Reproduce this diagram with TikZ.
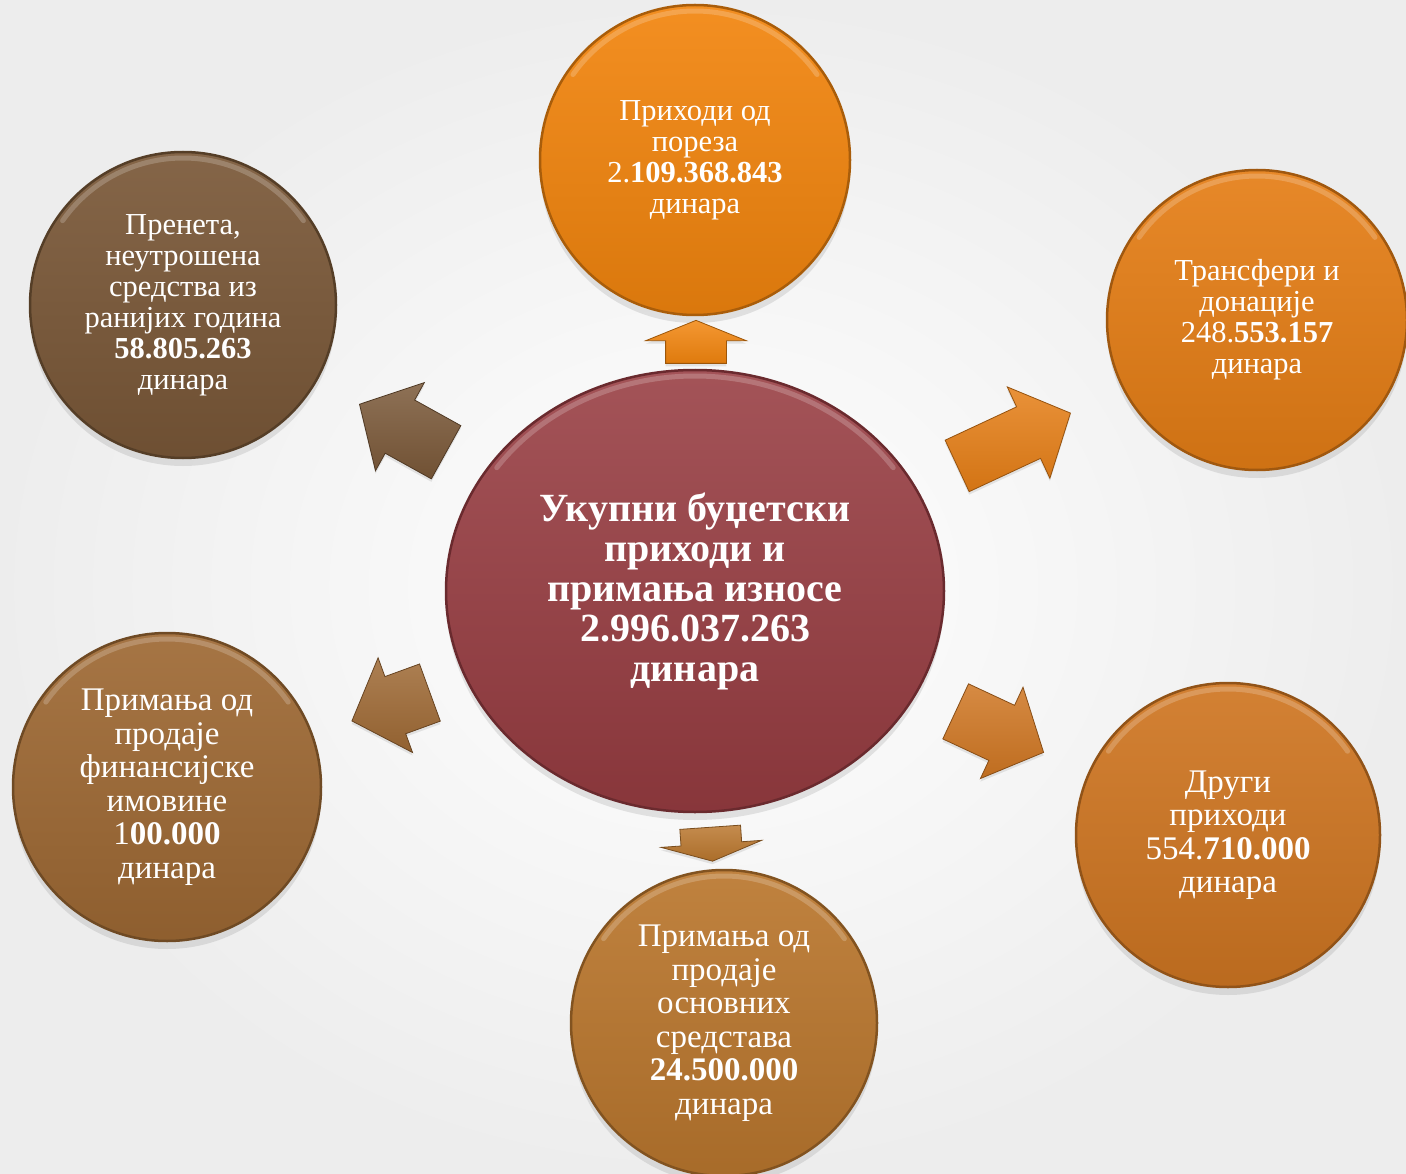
\documentclass[tikz,border=0pt]{standalone}
\usepackage{fontspec}
\setmainfont{Liberation Serif}
\usetikzlibrary{shapes.geometric,shapes.arrows,shadows}

\definecolor{cukupno}{HTML}{973C41}
\definecolor{cporez}{HTML}{F2850E}
\definecolor{ctransf}{HTML}{E57E16}
\definecolor{cdrugi}{HTML}{CF7622}
\definecolor{cosnov}{HTML}{BA772E}
\definecolor{cfinan}{HTML}{9E6934}
\definecolor{cpreneto}{HTML}{7A5838}

\tikzset{
  bubble/.style={circle, draw=#1!70!black, line width=2.5pt,
    top color=#1!92!white, bottom color=#1!90!black,
    text=white, align=center, inner sep=0pt,
    font=\fontsize{30.5}{31}\selectfont,
    drop shadow={shadow xshift=0pt, shadow yshift=-8pt, opacity=.2}},
  bigtext/.style={font=\fontsize{33}{33.5}\selectfont},
  blockarrow/.style={single arrow, draw=#1!65!black, line width=.8pt,
    top color=#1!85!white, bottom color=#1!92!black,
    inner xsep=0pt, inner ysep=30pt, single arrow head extend=20pt,
    single arrow tip angle=95,
    drop shadow={shadow xshift=0pt, shadow yshift=-3pt, opacity=.18}},
  gloss/.style={white, opacity=.2, line width=5pt, line cap=round}
}

\begin{document}
\begin{tikzpicture}[x=1pt, y=1pt]
  \useasboundingbox (0,0) rectangle (1406,-1174);
  \shade[inner color=white, outer color=black!7] (0,0) rectangle (1406,-1174);

  % center
  \node[ellipse, draw=cukupno!70!black, line width=2.5pt,
    top color=cukupno!88!white, bottom color=cukupno!90!black,
    minimum width=498pt, minimum height=442pt, inner sep=0pt,
    text=white, align=center, font=\bfseries\fontsize{40}{40}\selectfont,
    drop shadow={shadow xshift=0pt, shadow yshift=-8pt, opacity=.2}]
    (ukupno) at (695,-591) {Укупни буџетски\\приходи и\\примања износе\\2.996.037.263\\динара};

  % outer circles
  \node[bubble=cporez, minimum size=310pt] (porez) at (695,-160)
    {Приходи од\\пореза\\2.\textbf{109.368.843}\\динара};
  \node[bubble=ctransf, minimum size=300pt] (transf) at (1257,-320)
    {Трансфери и\\донације\\248.\textbf{553.157}\\динара};
  \node[bubble=cdrugi, bigtext, minimum size=304pt] (drugi) at (1228,-835)
    {Други\\приходи\\554.\textbf{710.000}\\динара};
  \node[bubble=cosnov, bigtext, minimum size=306pt] (osnovna) at (724,-1023)
    {Примања од\\продаје\\основних\\средстава\\\textbf{24.500.000}\\динара};
  \node[bubble=cfinan, bigtext, minimum size=308pt] (finans) at (167,-787)
    {Примања од\\продаје\\финансијске\\имовине\\1\textbf{00.000}\\динара};
  \node[bubble=cpreneto, minimum size=306pt] (preneto) at (183,-305)
    {Пренета,\\неутрошена\\средства из\\ранијих година\\\textbf{58.805.263}\\динара};

  % gloss on the rims
  \foreach \n/\r in {porez/149, transf/144, drugi/146, osnovna/147, finans/148, preneto/147}
    \draw[gloss] (\n.center) ++(145:\r pt) arc[start angle=145, end angle=35, radius=\r pt];
  \draw[gloss] (ukupno.center) ++(145:242pt and 215pt)
    arc[start angle=145, end angle=35, x radius=242pt, y radius=215pt];

  % arrows
  \node[blockarrow=cporez, minimum height=43pt, rotate=90, single arrow tip angle=136] (aporez) at (696,-348) {};
  \node[blockarrow=cpreneto, minimum height=99pt, rotate=151] (apreneto) at (415,-435) {};
  \node[blockarrow=ctransf, minimum height=125pt, rotate=25, inner ysep=28pt, single arrow head extend=22pt] (atransf) at (1002,-445) {};
  \node[blockarrow=cfinan, minimum height=83pt, rotate=200] (afinan) at (404,-702) {};
  \node[blockarrow=cdrugi, minimum height=97pt, rotate=-25] (adrugi) at (987,-726) {};
  \node[blockarrow=cosnov, minimum height=34pt, rotate=-86, single arrow tip angle=142] (aosnov) at (711,-839) {};
\end{tikzpicture}
\end{document}
